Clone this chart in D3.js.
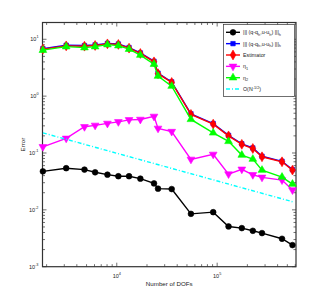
<!DOCTYPE html>
<html>
<head>
<meta charset="utf-8">
<script src="https://cdn.jsdelivr.net/npm/d3@7"></script>
<style>
  body { margin: 0; background: #fff; }
  text { font-family: "Liberation Sans", Arial, sans-serif; }
</style>
</head>
<body>
<div id="chart"></div>
<script>
// degrees of freedom (x)
const dofs = [1836, 3133, 4766, 6084, 8070, 10370, 13250, 17170, 23490, 25760,
              35240, 54800, 91300, 129800, 176000, 226600, 279700, 442700, 562700]

// error series
const errA = [0.0475, 0.054, 0.051, 0.0458, 0.0416, 0.039, 0.039, 0.0354, 0.0292, 0.0236,
              0.0232, 0.0085, 0.0091, 0.0051, 0.00477, 0.00428, 0.0039, 0.0031, 0.0024]
const errB = [6.85, 7.85, 7.75, 7.95, 8.45, 8.25, 7.15, 5.75, 4.1, 2.53,
              1.78, 0.488, 0.329, 0.204, 0.145, 0.1225, 0.0875, 0.0715, 0.051]
const estimator = [6.70, 7.65, 7.56, 7.78, 8.30, 8.11, 6.98, 5.63, 4.01, 2.48,
                   1.74, 0.477, 0.322, 0.200, 0.142, 0.120, 0.0857, 0.070, 0.050]
const eta1 = [0.1285, 0.181, 0.289, 0.306, 0.331, 0.353, 0.383, 0.389, 0.440, 0.271,
              0.238, 0.0772, 0.0945, 0.0426, 0.0517, 0.0414, 0.0373, 0.0334, 0.0223]
const eta2 = [6.43, 7.41, 7.12, 7.41, 8.04, 7.72, 6.70, 5.26, 3.65, 2.25,
              1.50, 0.39, 0.226, 0.160, 0.0919, 0.078, 0.050, 0.0377, 0.0284]
// reference slope line, endpoints
const refX = [1836, 562700]
const refY = [0.226, 0.0139]

const xTicks = [1e4, 1e5]
const yTicks = [1e-3, 1e-2, 1e-1, 1e0, 1e1]

const W = 327, H = 300
const m = {left: 42.5, right: 296, top: 22.5, bottom: 266.7}

const svg = d3.select("#chart").append("svg")
    .attr("width", W).attr("height", H)

const x = d3.scaleLog().domain([1820, 6.1e5]).range([m.left, m.right])
const y = d3.scaleLog().domain([1e-3, Math.pow(10, 1.295)]).range([m.bottom, m.top])

// minor ticks
function minorTicks(lo, hi) {
    let out = []
    for (let e = Math.floor(Math.log10(lo)); e <= Math.ceil(Math.log10(hi)); e++) {
        for (let k = 1; k < 10; k++) {
            let v = k * Math.pow(10, e)
            if (v >= lo && v <= hi) out.push({v: v, major: k == 1})
        }
    }
    return out
}

const axCol = "#333"
const g = svg.append("g")

// frame
g.append("rect")
    .attr("x", m.left).attr("y", m.top)
    .attr("width", m.right - m.left).attr("height", m.bottom - m.top)
    .attr("fill", "#fff").attr("stroke", axCol).attr("stroke-width", 1.2)

// x ticks (bottom + top)
minorTicks(x.domain()[0], x.domain()[1]).forEach(t => {
    let len = t.major ? 4 : 2.5
    let px = x(t.v)
    g.append("line").attr("x1", px).attr("x2", px).attr("y1", m.bottom).attr("y2", m.bottom - len)
        .attr("stroke", axCol).attr("stroke-width", 0.7)
    g.append("line").attr("x1", px).attr("x2", px).attr("y1", m.top).attr("y2", m.top + len)
        .attr("stroke", axCol).attr("stroke-width", 0.7)
})
minorTicks(y.domain()[0], y.domain()[1]).forEach(t => {
    let len = t.major ? 4 : 2.5
    let py = y(t.v)
    g.append("line").attr("y1", py).attr("y2", py).attr("x1", m.left).attr("x2", m.left + len)
        .attr("stroke", axCol).attr("stroke-width", 0.7)
    g.append("line").attr("y1", py).attr("y2", py).attr("x1", m.right).attr("x2", m.right - len)
        .attr("stroke", axCol).attr("stroke-width", 0.7)
})

// tick labels
xTicks.forEach(v => {
    let t = g.append("text").attr("x", x(v)).attr("y", 278)
        .attr("text-anchor", "middle").attr("font-size", 5.5).attr("fill", "#222")
    t.append("tspan").text("10")
    t.append("tspan").text(Math.round(Math.log10(v))).attr("dy", -3).attr("font-size", 3.8)
})
yTicks.forEach(v => {
    let t = g.append("text").attr("x", m.left - 4).attr("y", y(v) + 2)
        .attr("text-anchor", "end").attr("font-size", 5.5).attr("fill", "#222")
    t.append("tspan").text("10")
    t.append("tspan").text(Math.round(Math.log10(v))).attr("dy", -3).attr("font-size", 3.8)
})

// axis titles
g.append("text").attr("x", (m.left + m.right) / 2).attr("y", 286)
    .attr("text-anchor", "middle").attr("font-size", 6.2).attr("fill", "#222")
    .text("Number of DOFs")
g.append("text").attr("transform", `translate(25,${(m.top + m.bottom) / 2}) rotate(-90)`)
    .attr("text-anchor", "middle").attr("font-size", 6.2).attr("fill", "#222")
    .text("Error")

const series = [
    {vals: errA, color: "#000", shape: d3.symbolCircle, size: 26, rot: 0},
    {vals: errB, color: "#0000ff", shape: d3.symbolSquare, size: 20, rot: 0},
    {vals: estimator, color: "#ff0000", shape: d3.symbolDiamond, size: 28, rot: 0},
    {vals: eta1, color: "#ff00ff", shape: d3.symbolTriangle, size: 26, rot: 180},
    {vals: eta2, color: "#00ff00", shape: d3.symbolTriangle, size: 26, rot: 0}
]

const line = d3.line().x(d => x(d[0])).y(d => y(d[1]))

const plot = svg.append("g")
series.forEach(s => {
    let pts = dofs.map((d, i) => [d, s.vals[i]])
    plot.append("path").attr("d", line(pts))
        .attr("fill", "none").attr("stroke", s.color).attr("stroke-width", 1.4)
    plot.selectAll(null).data(pts).enter().append("path")
        .attr("d", d3.symbol().type(s.shape).size(s.size))
        .attr("transform", d => `translate(${x(d[0])},${y(d[1])}) rotate(${s.rot})`)
        .attr("fill", s.color).attr("stroke", s.color).attr("stroke-width", 0.6)
})

// reference slope line
plot.append("path").attr("d", line(refX.map((d, i) => [d, refY[i]])))
    .attr("fill", "none").attr("stroke", "#00ffff").attr("stroke-width", 1.4)
    .attr("stroke-dasharray", "4,2,1,2")

// legend
const lg = svg.append("g")
lg.append("rect").attr("x", 223.5).attr("y", 24.5).attr("width", 71).attr("height", 72)
    .attr("fill", "#fff").attr("stroke", axCol).attr("stroke-width", 0.7)

const legendRows = [
    {lab: "a", color: "#000", shape: d3.symbolCircle, size: 26, rot: 0},
    {lab: "b", color: "#0000ff", shape: d3.symbolSquare, size: 20, rot: 0},
    {lab: "Estimator", color: "#ff0000", shape: d3.symbolDiamond, size: 28, rot: 0},
    {lab: "eta1", color: "#ff00ff", shape: d3.symbolTriangle, size: 26, rot: 180},
    {lab: "eta2", color: "#00ff00", shape: d3.symbolTriangle, size: 26, rot: 0},
    {lab: "ref", color: "#00ffff", shape: null}
]
legendRows.forEach((r, i) => {
    let ly = 32.3 + i * 11.35
    let ln = lg.append("line").attr("x1", 226).attr("x2", 240).attr("y1", ly).attr("y2", ly)
        .attr("stroke", r.color).attr("stroke-width", 1.4)
    if (r.shape) {
        lg.append("path").attr("d", d3.symbol().type(r.shape).size(r.size))
            .attr("transform", `translate(233,${ly}) rotate(${r.rot})`)
            .attr("fill", r.color).attr("stroke", r.color).attr("stroke-width", 0.6)
    } else {
        ln.attr("stroke-dasharray", "4,2,1,2")
    }
    let t = lg.append("text").attr("x", 243).attr("y", ly + 2).attr("font-size", 5.3).attr("fill", "#222")
    if (r.lab == "a" || r.lab == "b") {
        t.append("tspan").text("||| (q-q")
        t.append("tspan").text("h").attr("font-size", 3.8).attr("dy", 1.5)
        t.append("tspan").text(",u-u").attr("dy", -1.5)
        t.append("tspan").text("h").attr("font-size", 3.8).attr("dy", 1.5)
        t.append("tspan").text(") |||").attr("dy", -1.5)
        t.append("tspan").text("h").attr("font-size", 3.8).attr("dy", 1.5)
    } else if (r.lab == "eta1" || r.lab == "eta2") {
        t.append("tspan").text("η")
        t.append("tspan").text(r.lab == "eta1" ? "1" : "2").attr("font-size", 3.8).attr("dy", 1.5)
    } else if (r.lab == "ref") {
        t.append("tspan").text("O(N")
        t.append("tspan").text("-1/2").attr("font-size", 3.8).attr("dy", -2.5)
        t.append("tspan").text(")").attr("dy", 2.5)
    } else {
        t.text(r.lab)
    }
})
</script>
</body>
</html>
